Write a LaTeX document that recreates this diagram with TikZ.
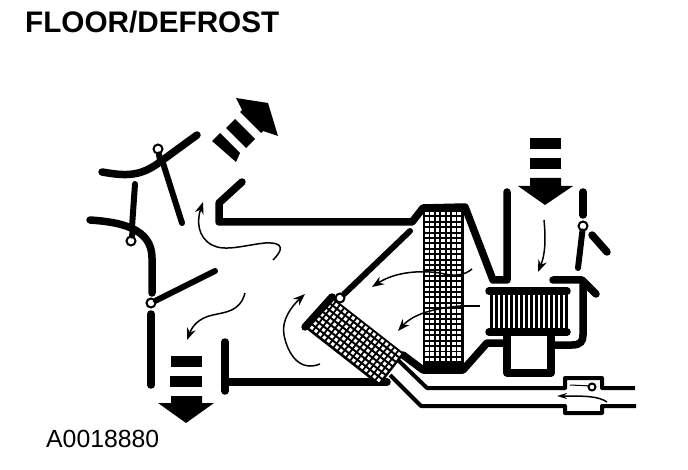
\documentclass[tikz,border=0pt]{standalone}
\usepackage{fontspec}
\setmainfont{Liberation Sans}
\usetikzlibrary{arrows.meta}
\tikzset{
  duct/.style={line width=7.5pt, line cap=round, line join=round},
  flap/.style={line width=6pt, line cap=round},
  pipe/.style={line width=4pt, line join=round},
  flow/.style={line width=1.5pt, -{Stealth[length=12pt,width=9pt]}},
  hinge/.style={circle, draw, fill=white, line width=2pt, minimum size=9pt, inner sep=0pt},
  label/.style={anchor=base west, inner sep=0pt}
}
\begin{document}
\begin{tikzpicture}[x=1pt, y=-1pt]
\useasboundingbox (0,0) rectangle (688,470);

\node[label, font=\bfseries\fontsize{29.7}{30}\selectfont] (title) at (25,33) {FLOOR/DEFROST};
\node[label, font=\fontsize{24.8}{25}\selectfont] (partno) at (46,447) {A0018880};

\draw[duct] (102,172) .. controls (125,176) and (140,177) .. (160,162) -- (197,135); %upper flap
\draw[duct] (90,220) .. controls (120,222) and (152,228) .. (152,258) -- (152,293);
\draw[duct] (151,314) -- (151,385);
\draw[flap] (135,184) -- (132,227);
\draw[flap] (163,163) -- (182,223);
\draw[duct] (242,182) -- (219,203) -- (219,222) -- (412,222) -- (423,208) -- (465,207) -- (493,280) -- (507,280) -- (507,192);
\draw[duct] (225,342) -- (225,391);
\draw[duct] (225,382) -- (387,382);
\draw[duct] (403,355) -- (423,370) -- (463,370) -- (487,343) -- (507,343);

\node[hinge] (hingetop) at (158,149) {};
\node[hinge] (hingeleft) at (131,241) {};
\node[hinge] (hingemid) at (151,303) {};
\node[hinge] (hingecore) at (340,298) {};
\node[hinge] (hingeright) at (583,226) {};
\coordinate (midend) at (215,271);
\coordinate (coreend) at (410,231);
\coordinate (rightend) at (578,268);
\draw[flap] (hingemid) -- (midend);
\draw[flap] (hingecore) -- (coreend);
\draw[flap] (hingeright) -- (rightend);
\draw[flap] (hingetop) -- (160,160);
\draw[flap] (hingeleft) -- (133,230);

%big core
\fill (423,208) rectangle (464,367);
\foreach \i in {0,...,6} \foreach \j in {0,...,27}
  \fill[white] (425+5.4*\i,212+5.4*\j) rectangle +(3.5,3.5);

%slanted core
\begin{scope}[shift={(332,297)}, rotate=-38]
\fill (0,0) rectangle (92,41);
\foreach \i in {0,...,16} \foreach \j in {0,...,6}
  \fill[white] (1.5+5.3*\i,2+5.5*\j) rectangle +(3.2,3.2);
\end{scope}
\draw[duct] (332,297) -- (305,327);

%pipes
\draw[pipe] (398,360) -- (427,388) -- (565,388) -- (565,378) -- (602,378) -- (602,388) -- (635,388);
\draw[pipe] (390,375) -- (421,406) -- (565,406) -- (565,413) -- (602,413) -- (602,406) -- (636,406);
\draw[line width=1pt] (570,385) -- (592,386);
\node[hinge, minimum size=7pt] (valve) at (592,387) {};

%small core
\foreach \i in {0,...,15}
  \draw[line width=2.7pt] (491.5+5*\i,291) -- (491.5+5*\i,332);
\draw[duct] (489,291) -- (567,291);
\draw[duct] (489,332) -- (567,332);
\draw[duct] (507,337) -- (507,373) -- (551,373) -- (551,337);
\draw[duct] (551,345) -- (572,345) .. controls (580,345) and (583,342) .. (583,335) -- (583,283);
\draw[duct] (553,280) -- (582,280) -- (596,294);
\draw[duct] (583,192) -- (583,215);
\draw[duct] (592,235) -- (607,252);

%air arrows
\fill (236,98) -- (268,103) -- (278,136) -- (263,131) -- (261,133) -- (240,112) -- (242,110) -- cycle; %freccia
\fill (235,119) -- (255,139) -- (246,148) -- (226,128) -- cycle;
\fill (220,133) -- (240,153) -- (236,162) -- (212,141) -- cycle;

\fill (171,356) rectangle (202,367);
\fill (170,376) rectangle (202,387);
\fill (171,396) -- (202,396) -- (202,403) -- (214,403) -- (186,423) -- (158,403) -- (171,403) -- cycle; %freccia

\fill (530,138) rectangle (561,149);
\fill (530,158) rectangle (561,169);
\fill (530,178) -- (561,178) -- (561,186) -- (573,186) -- (545,205) -- (518,186) -- (530,186) -- cycle; %freccia

\draw[flow] (273,260) .. controls (283,250) and (285,242) .. (265,243) .. controls (245,245) and (225,252) .. (212,245) .. controls (197,237) and (197,220) .. (203,202);
\draw[flow] (245,293) .. controls (240,312) and (225,312) .. (213,315) .. controls (198,318) and (192,327) .. (187,340);
\draw[flow] (320,364) .. controls (300,372) and (288,355) .. (284,335) .. controls (281,320) and (292,306) .. (305,294);
\draw[flow] (544,220) .. controls (546,240) and (545,255) .. (538,272);
\draw[flow] (472,269) .. controls (465,275) and (455,277) .. (440,273) .. controls (420,270) and (395,272) .. (372,287);
\draw[line width=1.5pt] (480,306) -- (460,306);
\draw[flow] (460,306) .. controls (440,308) and (415,312) .. (398,331);
\draw[line width=1.5pt, -{Stealth[length=10pt,width=6pt]}] (607,402) .. controls (598,396) and (585,396) .. (557,396);

\end{tikzpicture}
\end{document}
